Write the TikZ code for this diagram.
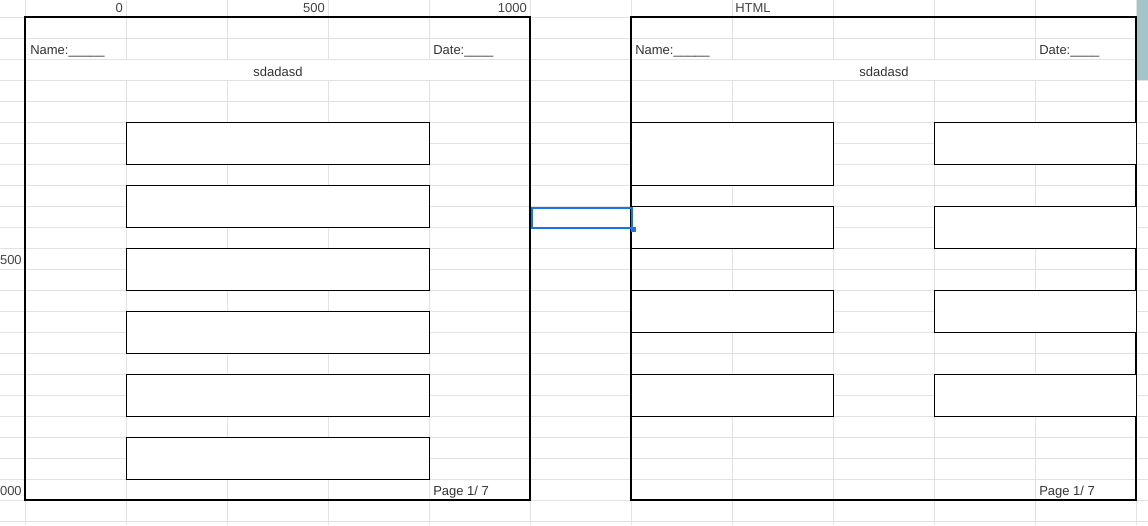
\documentclass[tikz,border=0pt]{standalone}
\usepackage{fontspec}
\setmainfont{Liberation Sans}
\definecolor{gridc}{HTML}{E2E2E2}
\definecolor{txt}{HTML}{333333}
\definecolor{hdr}{HTML}{444444}
\definecolor{selblue}{HTML}{1A73E8}
\definecolor{scroll}{HTML}{A3C5C8}
\begin{document}
\begin{tikzpicture}[x=0.75pt,y=-0.75pt,
  gridline/.style={draw=gridc,line width=0.75pt},
  frame/.style={draw=black,line width=0.8pt},
  cellbox/.style={draw=black,fill=white,line width=0.8pt,rectangle,inner sep=0pt},
  lbl/.style={font=\fontsize{9.75pt}{11pt}\selectfont,text=txt,inner sep=0pt},
  hlbl/.style={font=\fontsize{9.75pt}{11pt}\selectfont,text=hdr,inner sep=0pt}]
\clip (0,0) rectangle (1148,525);
\fill[white] (0,0) rectangle (1148,525);
% grid
\foreach \x in {25,126,...,1136} \draw[gridline] (\x,0) -- (\x,525);
\foreach \y in {17,38,...,521} \draw[gridline] (0,\y) -- (1148,\y);
% merged title rows (no grid lines inside frames)
\fill[white] (25.5,59.5) rectangle (529.5,79.5);
\fill[white] (631.5,59.5) rectangle (1135.5,79.5);
% frames
\draw[frame] (25,17) rectangle (530,500);
\draw[frame] (631,17) rectangle (1136,500);
% left boxes
\foreach \i/\y in {1/122,2/185,3/248,4/311,5/374,6/437}
  \node[cellbox,minimum width=303*0.75pt,minimum height=42*0.75pt,anchor=north west] (L\i) at (126,\y) {};
% right boxes, first column
\node[cellbox,minimum width=202*0.75pt,minimum height=63*0.75pt,anchor=north west] (A1) at (631,122) {};
\foreach \i/\y in {2/206,3/290,4/374}
  \node[cellbox,minimum width=202*0.75pt,minimum height=42*0.75pt,anchor=north west] (A\i) at (631,\y) {};
% right boxes, second column
\foreach \i/\y in {1/122,2/206,3/290,4/374}
  \node[cellbox,minimum width=202*0.75pt,minimum height=42*0.75pt,anchor=north west] (B\i) at (934,\y) {};
% texts left page
\node[lbl,anchor=west] (nameL) at (30,51) {Name:\_\_\_\_\_};
\node[lbl,anchor=west] (dateL) at (433,51) {Date:\_\_\_\_};
\node[lbl] (titleL) at (278,72) {sdadasd};
\node[lbl,anchor=west] (pageL) at (433,492) {Page 1/ 7};
% texts right page
\node[lbl,anchor=west] (nameR) at (635,51) {Name:\_\_\_\_\_};
\node[lbl,anchor=west] (dateR) at (1039,51) {Date:\_\_\_\_};
\node[lbl] (titleR) at (884,72) {sdadasd};
\node[lbl,anchor=west] (pageR) at (1039,492) {Page 1/ 7};
% header labels
\node[hlbl,anchor=east] (h0) at (123,8) {0};
\node[hlbl,anchor=east] (h500) at (325,8) {500};
\node[hlbl,anchor=east] (h1000) at (527,8) {1000};
\node[hlbl,anchor=west] (hhtml) at (735,8) {HTML};
\node[hlbl,anchor=east] (r500) at (22,260) {500};
\node[hlbl,anchor=east] (r1000) at (22,491) {000};
% selection
\node[draw=selblue,line width=1.5pt,rectangle,inner sep=0pt,minimum width=100*0.75pt,minimum height=20*0.75pt,anchor=north west] (sel) at (531,207) {};
\node[fill=selblue,rectangle,inner sep=0pt,minimum size=5*0.75pt] (handle) at (sel.south east) {};
% scrollbar
\fill[scroll] (1137,0) rectangle (1148,80);
\end{tikzpicture}
\end{document}
